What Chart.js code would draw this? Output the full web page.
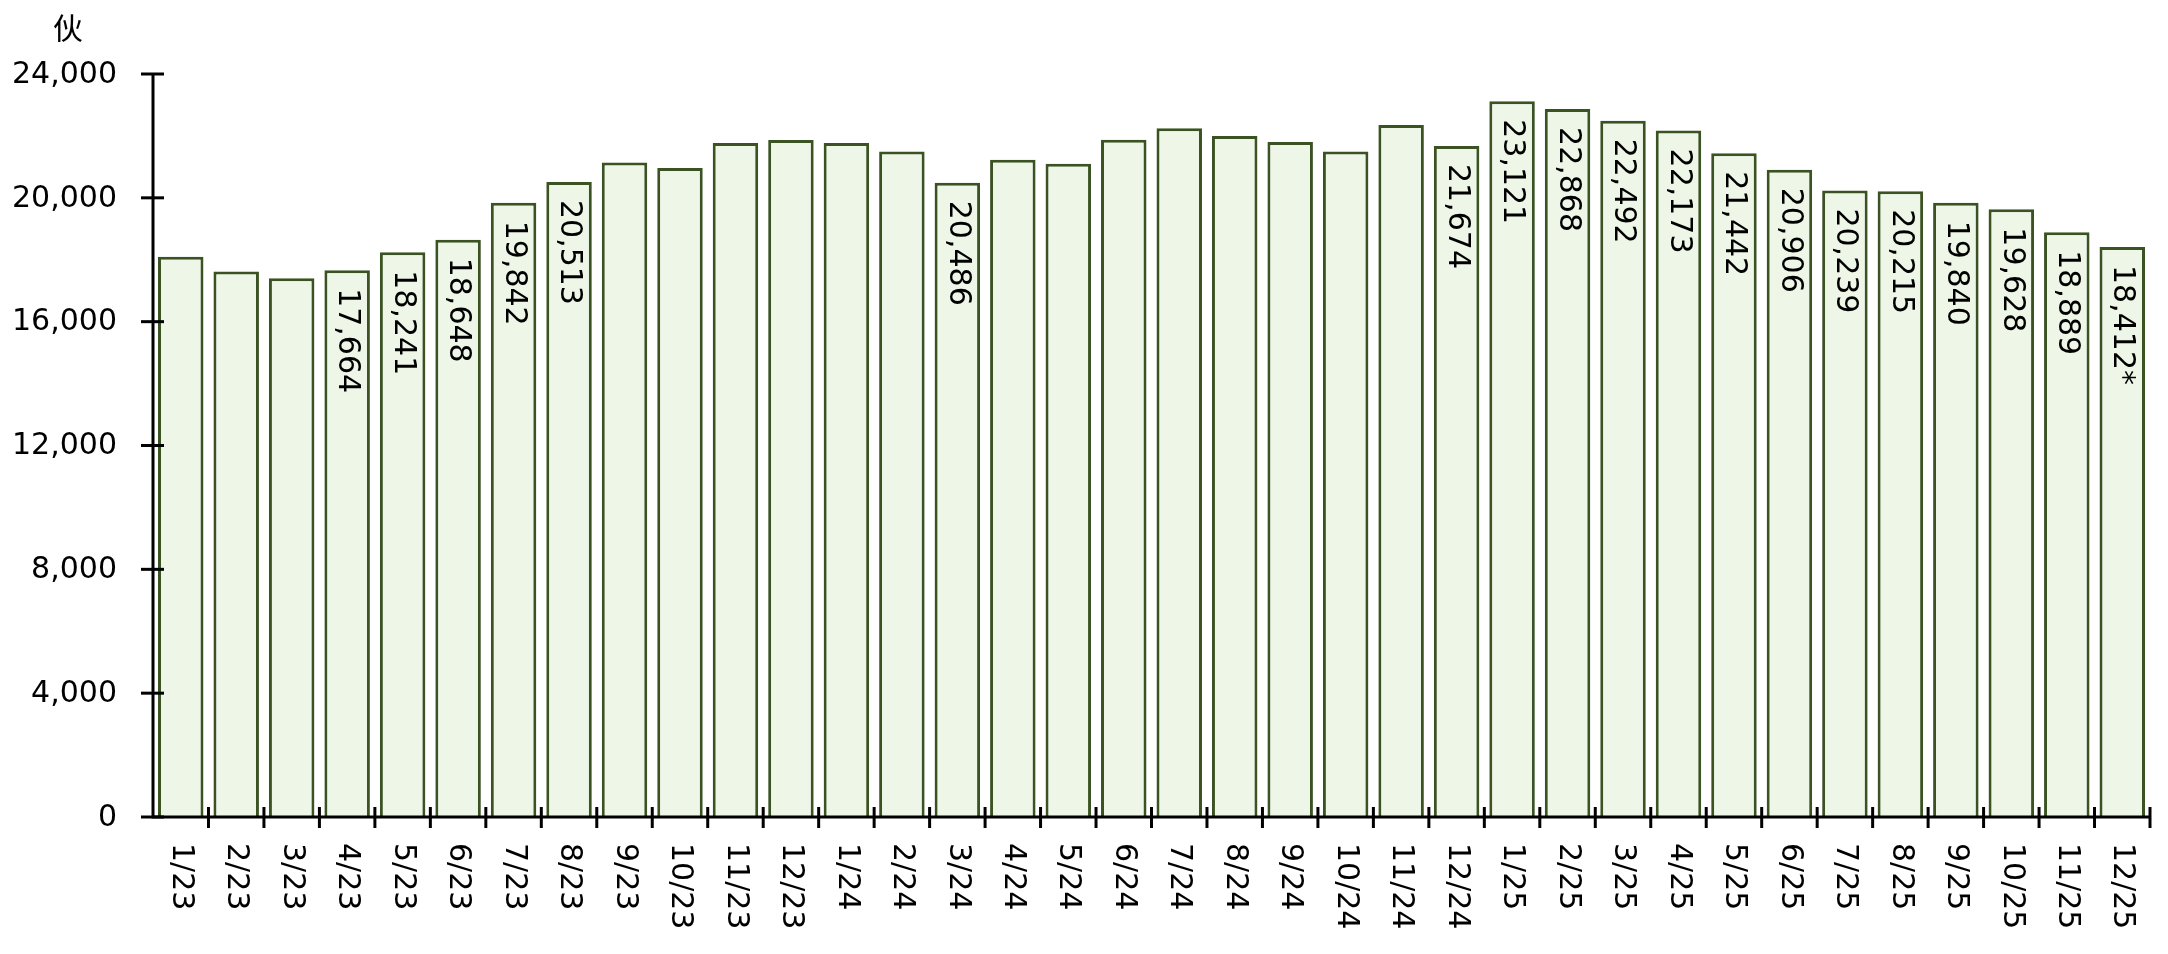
<!DOCTYPE html>
<html>
<head>
<meta charset="utf-8">
<script src="https://cdn.jsdelivr.net/npm/chart.js@4"></script>
<style>
  html, body { margin: 0; padding: 0; background: #fff; }
  #wrap { width: 2168px; height: 954px; }
</style>
</head>
<body>
<div id="wrap"><canvas id="myBarChart"></canvas></div>
<script>
const months = ["1/23","2/23","3/23","4/23","5/23","6/23","7/23","8/23","9/23","10/23","11/23","12/23",
  "1/24","2/24","3/24","4/24","5/24","6/24","7/24","8/24","9/24","10/24","11/24","12/24",
  "1/25","2/25","3/25","4/25","5/25","6/25","7/25","8/25","9/25","10/25","11/25","12/25"];
const units = [18100,17620,17400,17664,18241,18648,19842,20513,21140,20960,21770,21870,
  21770,21500,20486,21230,21100,21880,22250,22000,21800,21500,22350,21674,
  23121,22868,22492,22173,21442,20906,20239,20215,19840,19628,18889,18412];
// text shown inside the bars ("" = no label)
const barLabels = ["","","","17,664","18,241","18,648","19,842","20,513","","","","",
  "","","20,486","","","","","","","","","21,674",
  "23,121","22,868","22,492","22,173","21,442","20,906","20,239","20,215","19,840","19,628","18,889","18,412*"];
const yTicks = [0,4000,8000,12000,16000,20000,24000];

const FONT = '30px "DejaVu Sans", Verdana, sans-serif';

const axisPlugin = {
  id: "axisPlugin",
  afterDatasetsDraw(chart) {
    const ctx = chart.ctx;
    const x = chart.scales.x, y = chart.scales.y;
    const area = chart.chartArea;
    ctx.save();
    ctx.strokeStyle = "#000";
    ctx.fillStyle = "#000";
    ctx.lineWidth = 3;
    // axis lines
    ctx.beginPath();
    ctx.moveTo(area.left, area.top - 1);
    ctx.lineTo(area.left, area.bottom);
    ctx.lineTo(area.right, area.bottom);
    ctx.stroke();
    // y ticks + labels
    ctx.font = FONT;
    ctx.textAlign = "right";
    ctx.textBaseline = "middle";
    yTicks.forEach(function (v) {
      const py = y.getPixelForValue(v);
      ctx.beginPath();
      ctx.moveTo(area.left - 12, py);
      ctx.lineTo(area.left + 11, py);
      ctx.stroke();
      ctx.fillText(v.toLocaleString("en-US"), area.left - 36, py + 1);
    });
    // x ticks at category boundaries
    const step = (area.right - area.left) / months.length;
    for (let i = 1; i <= months.length; i++) {
      const px = area.left + i * step;
      ctx.beginPath();
      ctx.moveTo(px, area.bottom - 10);
      ctx.lineTo(px, area.bottom + 11);
      ctx.stroke();
    }
    // x labels, rotated clockwise
    ctx.textAlign = "left";
    months.forEach(function (m, i) {
      const px = x.getPixelForValue(i);
      ctx.save();
      ctx.translate(px, area.bottom + 26);
      ctx.rotate(Math.PI / 2);
      ctx.fillText(m, 0, 0);
      ctx.restore();
    });
    // value labels inside the bars
    const meta = chart.getDatasetMeta(0);
    meta.data.forEach(function (bar, i) {
      if (!barLabels[i]) return;
      ctx.save();
      ctx.translate(bar.x, bar.y + 18);
      ctx.rotate(Math.PI / 2);
      ctx.fillText(barLabels[i], 0, 0);
      ctx.restore();
    });
    // unit
    ctx.textAlign = "center";
    ctx.font = '30px "Noto Sans CJK TC", sans-serif';
    ctx.fillText("伙", 68, 28);
    ctx.restore();
  }
};

document.addEventListener("DOMContentLoaded", function () {
  const ctxBar = document.getElementById("myBarChart").getContext("2d");
  new Chart(ctxBar, {
    type: "bar",
    data: {
      labels: months,
      datasets: [{
        data: units,
        backgroundColor: "#eef6e8",
        borderColor: "#3b5323",
        borderWidth: 3,
        borderSkipped: "bottom",
        barPercentage: 0.82,
        categoryPercentage: 1.0
      }]
    },
    options: {
      responsive: true,
      maintainAspectRatio: false,
      devicePixelRatio: 1,
      animation: false,
      layout: { padding: { left: 153, right: 18, top: 74, bottom: 137 } },
      plugins: { legend: { display: false }, tooltip: { enabled: false } },
      scales: {
        x: { display: false, offset: true },
        y: { display: false, min: 0, max: 24000 }
      }
    },
    plugins: [axisPlugin]
  });
});
</script>
</body>
</html>
